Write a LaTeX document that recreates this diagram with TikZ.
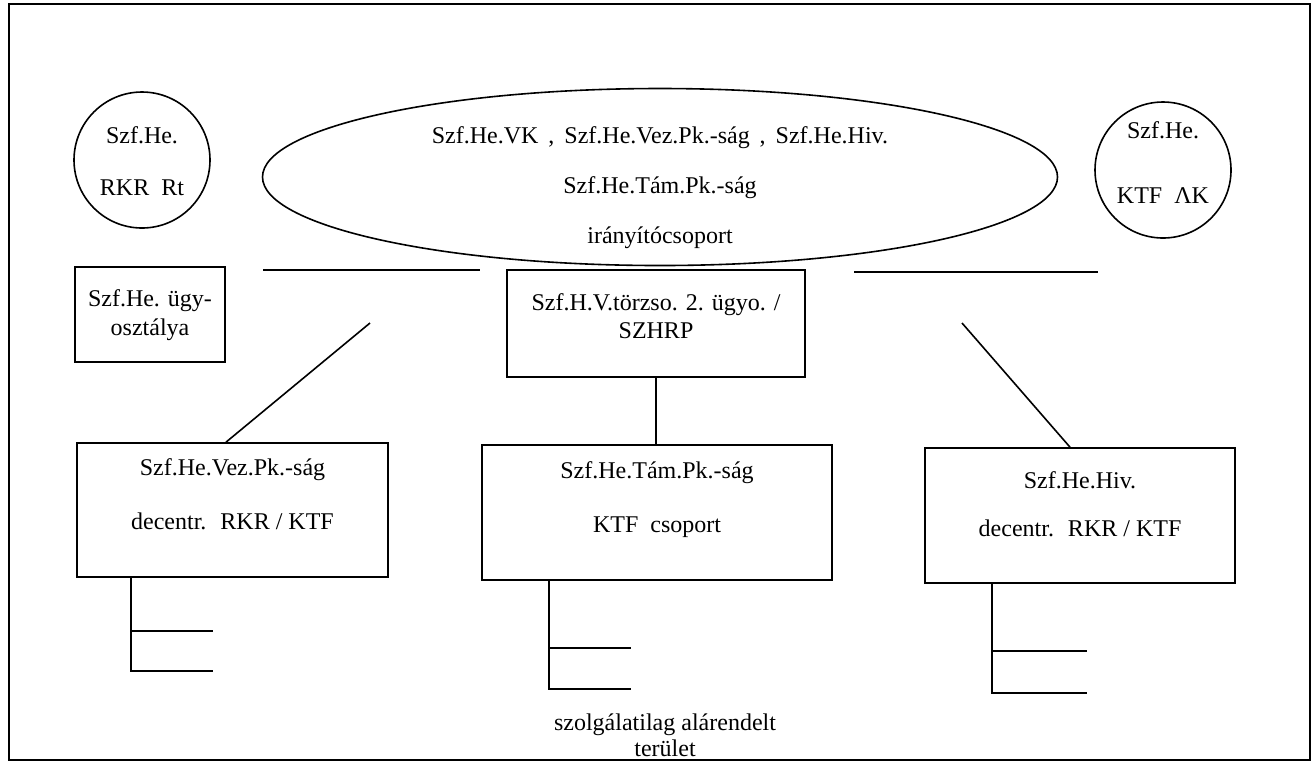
\documentclass[tikz,border=0pt]{standalone}
\usepackage{fontspec}
\setmainfont{Liberation Serif}
\usetikzlibrary{shapes.geometric,calc}

\begin{document}
\begin{tikzpicture}[
        x                       = 0.5pt,
        y                       = -0.5pt,
        every node/.style       = {font=\fontsize{12}{14}\selectfont, align=center, inner sep=0pt},
        every path/.style       = {line width=0.8pt},
        kor/.style              = {circle, draw, minimum size=68pt},
        doboz/.style            = {rectangle, draw},
        egyseg/.style           = {doboz, font=\fontsize{12}{27}\selectfont},
        % keret/.style          = {line width=1.2pt},
      ]
        \useasboundingbox (0,0) rectangle (1316,768);
        \draw[line width=1.2pt] (9,4) rectangle (1310,760);

        \node[ellipse, draw, minimum width=397.5pt, minimum height=88.5pt, inner sep=-8pt,
              text height=66pt, text depth=0pt, font=\fontsize{12}{25}\selectfont]
              (iranyito) at (660,177)
              {Szf.He.VK\hspace{5pt},\hspace{5pt}Szf.He.Vez.Pk.-ság\hspace{5pt},\hspace{5pt}Szf.He.Hiv.\\Szf.He.Tám.Pk.-ság\\irányítócsoport};
        \node[kor, text height=35pt, text depth=0pt, font=\fontsize{12}{26}\selectfont]
              (rkr) at (142,160) {Szf.He.\\RKR~ Rt};
        \node[kor, text height=36.5pt, text depth=3.5pt, font=\fontsize{12}{32.5}\selectfont]
              (ak) at (1163,170) {Szf.He.\\KTF~ ΛK};

        \node[doboz, minimum width=75pt, text height=34pt, text depth=13.5pt,
              font=\fontsize{12}{14.5}\selectfont] (ugyo) at (150,314.5) {Szf.He. ügy-\\osztálya};
        \node[doboz, minimum width=149pt, text height=34pt, text depth=19.5pt]
              (torzs) at (656,323.5) {Szf.H.V.törzso. 2. ügyo. /\\SZHRP};

        \node[egyseg, minimum width=155.5pt, text height=43pt, text depth=24pt]
              (vez) at (232.5,510) {Szf.He.Vez.Pk.-ság\\decentr.~ RKR / KTF};
        \node[egyseg, minimum width=175pt, text height=43.5pt, text depth=24pt]
              (tam) at (657,512.5) {Szf.He.Tám.Pk.-ság\\KTF~ csoport};
        \node[egyseg, minimum width=155pt, text height=44pt, text depth=23.5pt,
              font=\fontsize{12}{24}\selectfont]
              (hiv) at (1080,515.5) {Szf.He.Hiv.\\decentr.~ RKR / KTF};

        \node[font=\fontsize{12}{13}\selectfont] (alarendelt) at (665,735)
              {szolgálatilag alárendelt\\terület};

        \draw (263,270) -- (480,270);
        \draw (854,272) -- (1098,272);

        \coordinate (bal) at (370,323);
        \coordinate (jobb) at (962,323);
        \draw (bal) -- ($(vez.north west)!0.479!(vez.north east)$);
        \draw (jobb) -- ($(hiv.north west)!0.468!(hiv.north east)$);
        \draw (torzs.south) -- (torzs.south |- tam.north);

        \draw (vez.south west) ++(55,0) -- ++(0,93) -- ++(82,0);
        \draw (vez.south west) ++(55,53) -- ++(82,0);
        \draw (tam.south west) ++(68,0) -- ++(0,108) -- ++(82,0);
        \draw (tam.south west) ++(68,67) -- ++(82,0);
        \draw (hiv.south west) ++(68,0) -- ++(0,109) -- ++(95,0);
        \draw (hiv.south west) ++(68,67) -- ++(95,0);
    \end{tikzpicture}
\end{document}
